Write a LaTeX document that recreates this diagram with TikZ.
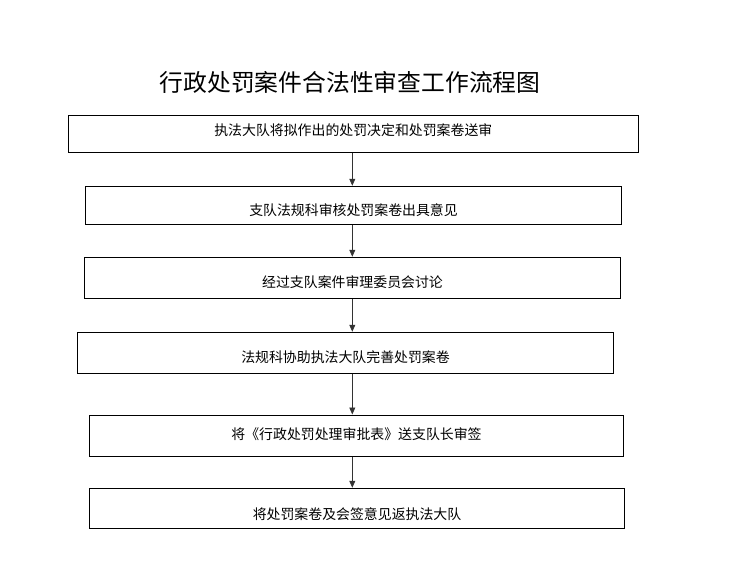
\documentclass[tikz,border=0pt]{standalone}
\usepackage{fontspec}
\setmainfont{Noto Sans CJK SC}
\usetikzlibrary{arrows.meta}
\begin{document}
\begin{tikzpicture}[x=1pt,y=-1pt]
            \tikzstyle{arrow} = [line width=0.8pt,black!80,-{Triangle[width=6pt,length=7pt]}]
            \tikzstyle{procbox} = [draw,line width=1.1pt,inner sep=0pt]
            \tikzstyle{proctext} = [inner sep=0pt,font=\fontsize{13.9pt}{16pt}\selectfont]
            \def \axisx{352.3}
            \useasboundingbox (0,0) rectangle (755,586);

            \node[inner sep=0pt,font=\fontsize{23.8pt}{28pt}\selectfont] (title) at (350,82.5) {行政处罚案件合法性审查工作流程图};

            \node[procbox,minimum width=570pt,minimum height=36.6pt] (b1) at (353.3,134) {};
            \node[procbox,minimum width=536.4pt,minimum height=38pt] (b2) at (353.5,205.3) {};
            \node[procbox,minimum width=536.4pt,minimum height=41pt] (b3) at (352.5,277.8) {};
            \node[procbox,minimum width=536.4pt,minimum height=41pt] (b4) at (345.5,352.8) {};
            \node[procbox,minimum width=533.6pt,minimum height=41.3pt] (b5) at (356.5,435.7) {};
            \node[procbox,minimum width=534.6pt,minimum height=40pt] (b6) at (357,508.3) {};

            \node[proctext] (t1) at ([yshift=4pt]b1.center) {执法大队将拟作出的处罚决定和处罚案卷送审};
            \node[proctext] (t2) at ([yshift=-5pt]b2.center) {支队法规科审核处罚案卷出具意见};
            \node[proctext] (t3) at ([yshift=-4.5pt]b3.center) {经过支队案件审理委员会讨论};
            \node[proctext] (t4) at ([yshift=-4.2pt]b4.center) {法规科协助执法大队完善处罚案卷};
            \node[proctext] (t5) at ([yshift=1.4pt]b5.center) {将《行政处罚处理审批表》送支队长审签};
            \node[proctext] (t6) at ([yshift=-5.5pt]b6.center) {将处罚案卷及会签意见返执法大队};

            \coordinate (axis) at (\axisx,0);
            \foreach \a/\b in {b1/b2,b2/b3,b3/b4,b4/b5,b5/b6}
                \draw[arrow] (\a.south -| axis) -- (\b.north -| axis);
        \end{tikzpicture}
\end{document}
